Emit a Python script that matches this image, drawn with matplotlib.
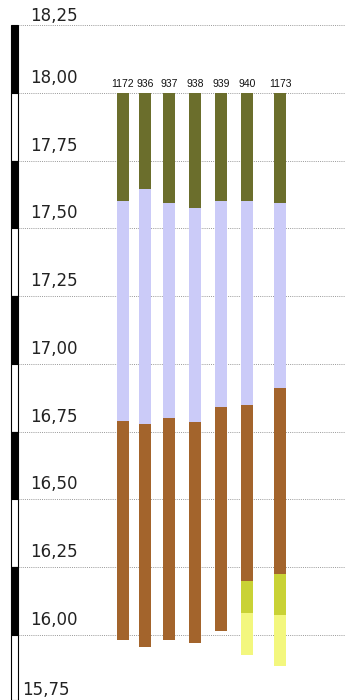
import numpy as np
import matplotlib
matplotlib.use("Agg")
import matplotlib.pyplot as plt
from matplotlib.patches import Rectangle

# ---- data ----
cores = ['1172', '936', '937', '938', '939', '940', '1173']
core_top = [18.00, 18.00, 18.00, 18.00, 18.00, 18.00, 18.00]
olive_bottom = [17.60, 17.645, 17.595, 17.575, 17.60, 17.60, 17.595]
lavender_bottom = [16.79, 16.78, 16.80, 16.785, 16.84, 16.85, 16.91]
brown_bottom = [15.98, 15.955, 15.98, 15.97, 16.015, 16.20, 16.225]
yellowgreen_bottom = [15.98, 15.955, 15.98, 15.97, 16.015, 16.08, 16.075]
paleyellow_bottom = [15.98, 15.955, 15.98, 15.97, 16.015, 15.925, 15.885]
depth_ticks = [18.25, 18.00, 17.75, 17.50, 17.25, 17.00, 16.75, 16.50, 16.25, 16.00, 15.75]
tick_labels = ['18,25', '18,00', '17,75', '17,50', '17,25', '17,00', '16,75',
               '16,50', '16,25', '16,00', '15,75']

# ---- layout ----
bar_x = [123, 145, 169, 195, 221, 247, 280]
bar_w = 12
Y_TOP, Y_BOT = 18.343, 15.760

fig = plt.figure(figsize=(3.45, 7.0), dpi=100)
ax = fig.add_axes([0, 0, 1, 1])
ax.set_xlim(0, 345)
ax.set_ylim(Y_BOT, Y_TOP)
ax.axis('off')

# gridlines
for d in depth_ticks:
    ax.plot([17.5, 345], [d, d], color='#999999', lw=0.7, ls=(0, (1, 1.2)), zorder=1)

# scale bar (alternating black / white)
for i in range(len(depth_ticks)):
    hi = depth_ticks[i]
    lo = depth_ticks[i + 1] if i + 1 < len(depth_ticks) else Y_BOT
    fc = 'black' if i % 2 == 0 else 'white'
    ax.add_patch(Rectangle((11, lo), 6.5, hi - lo, facecolor=fc, edgecolor='black',
                           lw=0.8, zorder=3))

# tick labels
for d, lab in zip(depth_ticks, tick_labels):
    if d == 18.25:
        ax.text(30, d + 0.002, lab, fontsize=12, color='#222222', va='bottom', ha='left')
    elif d == 15.75:
        ax.text(22, Y_BOT + 0.005, lab, fontsize=12, color='#222222', va='bottom', ha='left')
    else:
        ax.text(30, d + 0.022, lab, fontsize=12, color='#222222', va='bottom', ha='left')

# core columns
top = np.array(core_top)
ob = np.array(olive_bottom)
lb = np.array(lavender_bottom)
bb = np.array(brown_bottom)
yb = np.array(yellowgreen_bottom)
pb = np.array(paleyellow_bottom)

ax.bar(bar_x, top - ob, bottom=ob, width=bar_w, color='#6b6e2c', zorder=4)
ax.bar(bar_x, ob - lb, bottom=lb, width=bar_w, color='#cbcbf8', zorder=4)
ax.bar(bar_x, lb - bb, bottom=bb, width=bar_w, color='#a3642c', zorder=4)
ax.bar(bar_x, bb - yb, bottom=yb, width=bar_w, color='#c9d235', zorder=4)
ax.bar(bar_x, yb - pb, bottom=pb, width=bar_w, color='#f3f77e', zorder=4)

# core labels
for x, c, t in zip(bar_x, cores, core_top):
    ax.text(x, t + 0.013, c, ha='center', va='bottom', fontsize=7.5, color='#111111',
            family=['Liberation Sans', 'DejaVu Sans'], zorder=5)

fig.savefig('out.png', dpi=100, facecolor='white')
